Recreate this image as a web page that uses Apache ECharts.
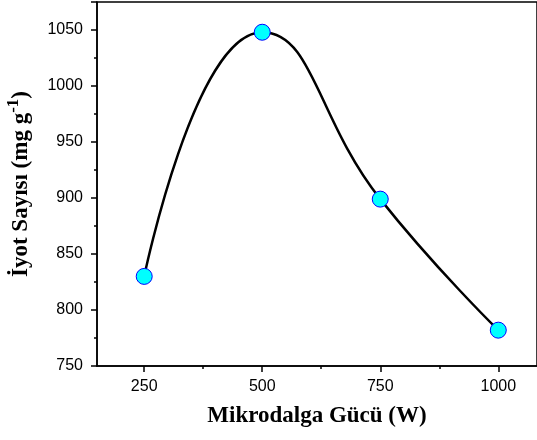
<!DOCTYPE html>
<html>
<head>
<meta charset="utf-8">
<script src="https://cdn.jsdelivr.net/npm/echarts@6/dist/echarts.min.js"></script>
<style>
html, body { margin: 0; padding: 0; background: #fff; }
#main { width: 537px; height: 440px; }
</style>
</head>
<body>
<div id="main"></div>
<script>
var myChart = echarts.init(document.getElementById('main'));

// Mikrodalga gücü (W) ve iyot sayısı (mg/g)
var power = [250, 500, 750, 1000];
var iodine = [830, 1048, 899, 782];
var xTicks = [250, 500, 750, 1000];
var xMinorTicks = [375, 625, 875];

var seriesData = [];
for (var i = 0; i < power.length; i++) {
    seriesData.push([power[i], iodine[i]]);
}

var serif = 'Liberation Serif';
var sans = 'Arial';

option = {
    backgroundColor: '#fff',
    animation: false,
    grid: {
        left: 97,
        top: 2,
        right: 0,
        bottom: 74,
        outerBoundsMode: 'none',
        show: true,
        borderColor: '#000',
        borderWidth: 1.5,
        backgroundColor: 'transparent'
    },
    xAxis: [
        {
            type: 'value',
            position: 'bottom',
            min: 150,
            max: 1082,
            name: 'Mikrodalga Gücü (W)',
            nameLocation: 'middle',
            nameGap: 39,
            nameTextStyle: {
                fontFamily: serif,
                fontWeight: 'bold',
                fontSize: 23,
                color: '#000'
            },
            axisLine: { show: true, lineStyle: { color: '#000', width: 1.5 } },
            axisTick: {
                show: true,
                length: 6,
                customValues: xTicks,
                lineStyle: { color: '#000', width: 1.5 }
            },
            axisLabel: {
                customValues: xTicks,
                margin: 13,
                fontFamily: sans,
                fontSize: 16,
                color: '#000',
                formatter: function (v) { return String(v); }
            },
            splitLine: { show: false }
        },
        {
            type: 'value',
            position: 'bottom',
            offset: 0,
            min: 150,
            max: 1082,
            axisLine: { show: false },
            axisTick: {
                show: true,
                length: 3,
                customValues: xMinorTicks,
                lineStyle: { color: '#000', width: 1.5 }
            },
            axisLabel: { show: false },
            splitLine: { show: false }
        }
    ],
    yAxis: {
        type: 'value',
        min: 750,
        max: 1075,
        interval: 50,
        name: '{a|İyot Sayısı (mg g}{s|-1}{a|)}',
        nameLocation: 'middle',
        nameGap: 60,
        nameRotate: 90,
        nameTextStyle: {
            rich: {
                a: { fontFamily: serif, fontWeight: 'bold', fontSize: 23, color: '#000', lineHeight: 32 },
                s: { fontFamily: serif, fontWeight: 'bold', fontSize: 17, color: '#000', verticalAlign: 'top', lineHeight: 22 }
            }
        },
        axisLine: { show: true, lineStyle: { color: '#000', width: 1.5 } },
        axisTick: { show: true, length: 6, lineStyle: { color: '#000', width: 1.5 } },
        minorTick: { show: true, splitNumber: 2, length: 3, lineStyle: { color: '#000', width: 1.5 } },
        axisLabel: {
            margin: 14,
            fontFamily: sans,
            fontSize: 16,
            color: '#000',
            showMaxLabel: false,
            formatter: function (v) { return v % 50 === 0 ? String(v) : ''; }
        },
        splitLine: { show: false }
    },
    series: [
        {
            type: 'line',
            data: seriesData,
            smooth: 0.5,
            symbol: 'circle',
            symbolSize: 16,
            lineStyle: { color: '#000', width: 2.5 },
            itemStyle: { color: '#00FFFF', borderColor: '#0000FF', borderWidth: 1 },
            z: 3
        }
    ]
};

myChart.setOption(option);
</script>
</body>
</html>
